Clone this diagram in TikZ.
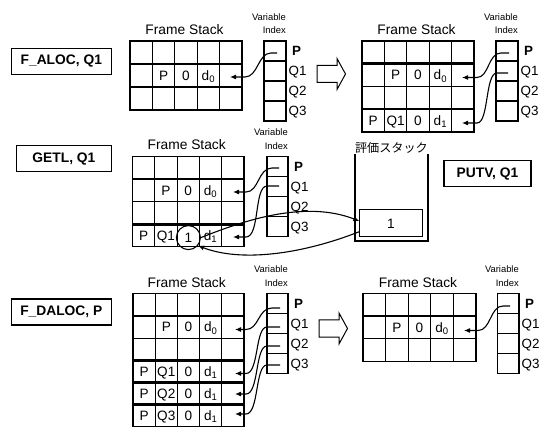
\documentclass[tikz,border=0pt]{standalone}
\usepackage{fontspec}
\setmainfont{Liberation Sans}
\newfontfamily\jpfont{Noto Sans CJK JP}
\usetikzlibrary{arrows.meta}

\tikzset{
  gridline/.style={line width=1.1pt, line cap=rect},
  framesep/.style={line width=2.5pt},
  cell/.style={inner sep=0pt, text height=9.8pt, text depth=0pt,
    font=\fontsize{13.6}{15}\selectfont},
  idxlbl/.style={inner sep=0pt, anchor=west, text height=9.6pt, text depth=0pt,
    font=\fontsize{13.4}{15}\selectfont},
  idxhead/.style={inner sep=0pt, text height=9.6pt, text depth=0pt,
    font=\fontsize{13.4}{15}\selectfont\bfseries},
  title/.style={inner sep=0pt, font=\fontsize{13.8}{16}\selectfont},
  small/.style={inner sep=0pt, anchor=east, font=\fontsize{9.4}{11}\selectfont},
  opbox/.style={draw, line width=1.1pt, inner sep=0pt, minimum height=26pt,
    font=\fontsize{13.8}{16}\selectfont\bfseries},
  ptr/.style={line width=1.1pt, -{Latex[length=6pt,width=5pt]}},
  back/.style={line width=1.1pt, -{Latex[length=6pt,width=5pt]}},
  hollow/.style={draw, line width=1pt},
  fatarrow/.pic={\draw[hollow] (0,-8.5) -- (20,-8.5) -- (20,-15.5) -- (28.5,0)
    -- (20,15.5) -- (20,8.5) -- (0,8.5) -- cycle;}
}

% frame stack grid: x0, y0, column width, row height, columns, rows
\newcommand\stackgrid[6]{%
  \foreach \i in {0,...,#5}
    \draw[gridline] ({#1+\i*#3},#2) -- ({#1+\i*#3},{#2+#6*#4});
  \foreach \j in {0,...,#6}
    \draw[gridline] (#1,{#2+\j*#4}) -- ({#1+#5*#3},{#2+\j*#4});
}
% variable index column of four slots: x0, y0, width, slot height
\newcommand\varindex[4]{%
  \draw[gridline] (#1,#2) rectangle ({#1+#3},{#2+4*#4});
  \foreach \j in {1,2,3}
    \draw[gridline] (#1,{#2+\j*#4}) -- ({#1+#3},{#2+\j*#4});
}

\begin{document}
\begin{tikzpicture}[x=1pt,y=-1pt]
\useasboundingbox (0,0) rectangle (543,427);

% ---------- operation labels ----------
\node[opbox, minimum width=99.5pt] (op-aloc)  at (61.3,61.4)  {F\_ALOC, Q1};
\node[opbox, minimum width=94.5pt] (op-getl)  at (63.9,158.8) {GETL, Q1};
\node[opbox, minimum width=99.5pt] (op-daloc) at (61.3,312)   {F\_DALOC, P};
\node[opbox, minimum width=87pt]   (op-putv)  at (487.5,173.8){PUTV, Q1};

% ---------- panel A : after F_ALOC, P ----------
\stackgrid{130}{41}{22.4}{23}{5}{3}
\draw[framesep] (130,64) -- (242,64);
\node[title] (a-fs) at (184.5,29.5) {Frame Stack};
\node[cell] (a-p)  at (163.6,75.5) {P};
\node[cell] (a-z)  at (186,75.5)   {0};
\node[cell] (a-d)  at (208.4,75.5) {d\textsubscript{0}};
\varindex{264}{41}{22}{20}
\node[small] (a-var) at (286,17)   {Variable};
\node[small] (a-idx) at (286,30.5) {Index};
\node[idxhead] (a-iP) at (296.5,51) {P};
\node[idxlbl] (a-iQ1) at (288.5,71)  {Q1};
\node[idxlbl] (a-iQ2) at (288.5,91)  {Q2};
\node[idxlbl] (a-iQ3) at (288.5,111) {Q3};
\coordinate (a-sP) at (277,53);
\coordinate (a-tP) at (230,77);
\draw[ptr] (a-sP) -- (271,53) .. controls (258,53) and (258,77) .. (245,77) -- (a-tP);

\pic at (317,74) {fatarrow};

% ---------- panel B : after F_ALOC, Q1 ----------
\stackgrid{362}{41}{22.4}{22.75}{5}{4}
\draw[framesep] (362,63.75) -- (474,63.75);
\draw[framesep] (362,109.25) -- (474,109.25);
\node[title] (b-fs) at (416.5,29.5) {Frame Stack};
\node[cell] (b-p)   at (395.6,75.1) {P};
\node[cell] (b-z)   at (418,75.1)   {0};
\node[cell] (b-d)   at (440.4,75.1) {d\textsubscript{0}};
\node[cell] (b-p2)  at (373.2,120.6) {P};
\node[cell] (b-q1)  at (395.6,120.6) {Q1};
\node[cell] (b-z2)  at (418,120.6)   {0};
\node[cell] (b-d1)  at (440.4,120.6) {d\textsubscript{1}};
\varindex{496}{41}{22}{20}
\node[small] (b-var) at (518,17)   {Variable};
\node[small] (b-idx) at (518,30.5) {Index};
\node[idxhead] (b-iP) at (528.5,51) {P};
\node[idxlbl] (b-iQ1) at (520.5,71)  {Q1};
\node[idxlbl] (b-iQ2) at (520.5,91)  {Q2};
\node[idxlbl] (b-iQ3) at (520.5,111) {Q3};
\coordinate (b-sP) at (509,53);
\coordinate (b-tP) at (462,77.5);
\coordinate (b-sQ) at (508,73);
\coordinate (b-tQ) at (462,123);
\draw[ptr] (b-sP) -- (501,53) .. controls (488,53) and (489,77.5) .. (477,77.5) -- (b-tP);
\draw[ptr] (b-sQ) -- (497,73) .. controls (485,73) and (489,123) .. (477,123) -- (b-tQ);

% ---------- panel C : GETL / PUTV ----------
\stackgrid{132.5}{156.5}{22.3}{22.6}{5}{4}
\draw[framesep] (132.5,179.1) -- (244,179.1);
\draw[framesep] (132.5,224.3) -- (244,224.3);
\node[title] (c-fs) at (186.7,145) {Frame Stack};
\node[cell] (c-p)   at (165.95,190.4) {P};
\node[cell] (c-z)   at (188.25,190.4) {0};
\node[cell] (c-d)   at (210.55,190.4) {d\textsubscript{0}};
\node[cell] (c-p2)  at (143.65,235.6) {P};
\node[cell] (c-q1)  at (165.95,235.6) {Q1};
\node[cell, draw, circle, line width=1.1pt, minimum size=24pt] (c-one) at (188.4,237.6) {1};
\node[cell] (c-d1)  at (210.55,235.6) {d\textsubscript{1}};
\varindex{267}{156.5}{21}{20}
\node[small] (c-var) at (288,132.5) {Variable};
\node[small] (c-idx) at (288,146)   {Index};
\node[idxhead] (c-iP) at (298.5,166.5) {P};
\node[idxlbl] (c-iQ1) at (290.5,186.5) {Q1};
\node[idxlbl] (c-iQ2) at (290.5,206.5) {Q2};
\node[idxlbl] (c-iQ3) at (290.5,226.5) {Q3};
\coordinate (c-sP) at (279,168);
\coordinate (c-tP) at (233,192);
\coordinate (c-sQ) at (279,186);
\coordinate (c-tQ) at (233,237);
\draw[ptr] (c-sP) -- (272,168) .. controls (258,168) and (259,192) .. (246,192) -- (c-tP);
\draw[ptr] (c-sQ) -- (267,186) .. controls (254,186) and (260,237) .. (246,237) -- (c-tQ);

% evaluation stack
\draw[gridline] (355,155) -- (355,241) -- (428,241) -- (428,155);
\node[inner sep=0pt, font=\jpfont\fontsize{12.1}{14}\selectfont] (ev-lbl) at (391.4,148.3) {評価スタック};
\node[cell, draw, line width=1.1pt, minimum width=63.4pt, minimum height=26.7pt] (ev-top) at (391,223.3) {1};
\coordinate (ev-in)  at (359.3,221);
\coordinate (ev-out) at (359.3,231.7);
\draw[ptr] (c-one.east) .. controls (245,220) and (305,200) .. (ev-in);
\draw[back] (ev-out) .. controls (300,255) and (240,262) .. (c-one.-40);

% ---------- panel D : before F_DALOC, P ----------
\stackgrid{133}{293.8}{22.2}{22.15}{5}{6}
\draw[framesep] (133,315.95) -- (244,315.95);
\draw[framesep] (133,360.25) -- (244,360.25);
\draw[framesep] (133,382.4) -- (244,382.4);
\draw[framesep] (133,404.55) -- (244,404.55);
\node[title] (d-fs) at (186.7,282.5) {Frame Stack};
\node[cell] (d-p)   at (166.3,327.0) {P};
\node[cell] (d-z)   at (188.5,327.0) {0};
\node[cell] (d-d)   at (210.7,327.0) {d\textsubscript{0}};
\node[cell] (d-p1)  at (144.1,371.3) {P};
\node[cell] (d-q1)  at (166.3,371.3) {Q1};
\node[cell] (d-z1)  at (188.5,371.3) {0};
\node[cell] (d-d1)  at (210.7,371.3) {d\textsubscript{1}};
\node[cell] (d-p2)  at (144.1,393.5) {P};
\node[cell] (d-q2)  at (166.3,393.5) {Q2};
\node[cell] (d-z2)  at (188.5,393.5) {0};
\node[cell] (d-d2)  at (210.7,393.5) {d\textsubscript{1}};
\node[cell] (d-p3)  at (144.1,415.6) {P};
\node[cell] (d-q3)  at (166.3,415.6) {Q3};
\node[cell] (d-z3)  at (188.5,415.6) {0};
\node[cell] (d-d3)  at (210.7,415.6) {d\textsubscript{1}};
\varindex{267}{293.3}{21}{20}
\node[small] (d-var) at (288,269.3) {Variable};
\node[small] (d-idx) at (288,282.8) {Index};
\node[idxhead] (d-iP) at (298.5,303.3) {P};
\node[idxlbl] (d-iQ1) at (290.5,323.3) {Q1};
\node[idxlbl] (d-iQ2) at (290.5,343.3) {Q2};
\node[idxlbl] (d-iQ3) at (290.5,363.3) {Q3};
\coordinate (d-sP)  at (280,308);
\coordinate (d-tP)  at (235,329.5);
\coordinate (d-sQ1) at (280,327);
\coordinate (d-tQ1) at (235,373.5);
\coordinate (d-sQ2) at (280,346);
\coordinate (d-tQ2) at (235,394);
\coordinate (d-sQ3) at (280,365);
\coordinate (d-tQ3) at (235,414);
\draw[ptr] (d-sP)  -- (272,308) .. controls (258,308) and (259,329.5) .. (246,329.5) -- (d-tP);
\draw[ptr] (d-sQ1) -- (267,327) .. controls (255,327) and (259,373.5) .. (246,373.5) -- (d-tQ1);
\draw[ptr] (d-sQ2) -- (267,346) .. controls (255,346) and (259,394) .. (246,394) -- (d-tQ2);
\draw[ptr] (d-sQ3) -- (267,365) .. controls (255,365) and (259,414) .. (246,414) -- (d-tQ3);

\pic at (319,328.5) {fatarrow};

% ---------- panel E : after F_DALOC, P ----------
\stackgrid{363}{293.3}{22.6}{22.8}{5}{3}
\draw[framesep] (363,316.1) -- (476,316.1);
\node[title] (e-fs) at (418,282.7) {Frame Stack};
\node[cell] (e-p)  at (396.9,327.5) {P};
\node[cell] (e-z)  at (419.5,327.5) {0};
\node[cell] (e-d)  at (442.1,327.5) {d\textsubscript{0}};
\varindex{497.5}{293.3}{21.5}{20}
\node[small] (e-var) at (519,269.3) {Variable};
\node[small] (e-idx) at (519,282.8) {Index};
\node[idxhead] (e-iP) at (529.5,303.3) {P};
\node[idxlbl] (e-iQ1) at (521.5,323.3) {Q1};
\node[idxlbl] (e-iQ2) at (521.5,343.3) {Q2};
\node[idxlbl] (e-iQ3) at (521.5,363.3) {Q3};
\coordinate (e-sP) at (510,306);
\coordinate (e-tP) at (464,330.5);
\draw[ptr] (e-sP) -- (503,306) .. controls (490,306) and (491,330.5) .. (478,330.5) -- (e-tP);
\end{tikzpicture}
\end{document}
